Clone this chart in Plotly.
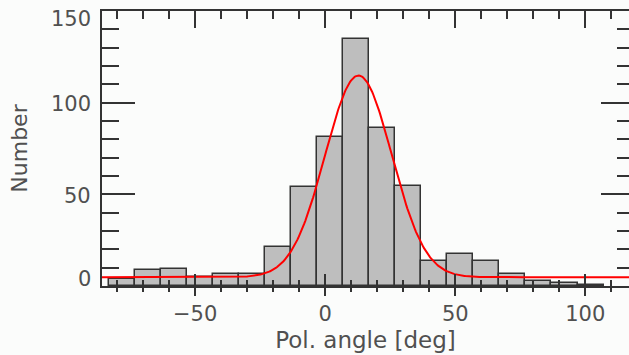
import numpy as np
import plotly.graph_objects as go

# Histogram of polarization angles (10-degree bins) and a Gaussian fit
bin_centers = [-78, -68, -58, -48, -38, -28, -18, -8, 2, 12, 22, 32,
               42, 52, 62, 72, 82, 92, 102]
counts = [3.7, 9.0, 9.5, 5.0, 6.6, 6.6, 21.3, 54.0, 81.3, 135.0, 86.4, 54.7,
          13.7, 17.5, 13.7, 6.3, 2.5, 1.5, 0.8]
bin_width = 10

# Gaussian + constant fit parameters
fit_amp = 110.0
fit_center = 12.8
fit_sigma = 12.8
fit_offset = 4.8

x_range = [-85.8, 116.8]
y_range = [0, 150]
x_major = [-50, 0, 50, 100]
y_major = [0, 50, 100, 150]
y_labels = ["0", "50", "100", "150"]
# end labels are nudged inside the frame (pixels, positive = up)
y_label_shift = [7, -2, -1, -8]

FONT = "DejaVu Sans"
TEXT = "#505050"
AXIS = "#333333"
BG = "#fbfcfb"

xf = np.linspace(x_range[0], x_range[1], 600)
yf = fit_offset + fit_amp * np.exp(-0.5 * ((xf - fit_center) / fit_sigma) ** 2)

fig = go.Figure()
fig.add_trace(go.Bar(
    x=bin_centers, y=counts, width=bin_width,
    marker=dict(color="#bebebe", line=dict(color=AXIS, width=1.5)),
    hoverinfo="skip", showlegend=False,
))
fig.add_trace(go.Scatter(
    x=xf, y=yf, mode="lines",
    line=dict(color="#ff0000", width=2),
    hoverinfo="skip", showlegend=False,
))
# empty traces so the extra tick-only axes get drawn
fig.add_trace(go.Scatter(x=[], y=[], xaxis="x2", yaxis="y", showlegend=False))
fig.add_trace(go.Scatter(x=[], y=[], xaxis="x3", yaxis="y", showlegend=False))
fig.add_trace(go.Scatter(x=[], y=[], xaxis="x", yaxis="y2", showlegend=False))

tick_common = dict(tickcolor=AXIS, tickwidth=1.5, showgrid=False, zeroline=False)

for val, txt, dy in zip(y_major, y_labels, y_label_shift):
    fig.add_annotation(
        x=0, xref="paper", xanchor="right", xshift=-9,
        y=val, yref="y", yanchor="middle", yshift=dy,
        text=txt, showarrow=False,
        font=dict(family=FONT, size=21, color=TEXT),
    )

fig.update_layout(
    width=629, height=355,
    margin=dict(l=102, r=0, t=11, b=69),
    paper_bgcolor=BG, plot_bgcolor=BG,
    bargap=0,
    font=dict(family=FONT, size=21, color=TEXT),
    xaxis=dict(
        range=x_range, side="bottom", anchor="y",
        showline=True, linecolor=AXIS, linewidth=1.5,
        tickmode="array", tickvals=x_major,
        ticks="outside", ticklen=8,
        minor=dict(dtick=10, tick0=0, ticks="outside", ticklen=4,
                   tickcolor=AXIS, tickwidth=1.5),
        tickfont=dict(family=FONT, size=21, color=TEXT),
        title=dict(text="Pol. angle [deg]", standoff=7,
                   font=dict(family=FONT, size=23, color=TEXT)),
        **tick_common,
    ),
    xaxis2=dict(
        range=x_range, overlaying="x", side="bottom", anchor="y",
        showline=False, showticklabels=False,
        tickmode="array", tickvals=x_major,
        ticks="inside", ticklen=12,
        minor=dict(dtick=10, tick0=0, ticks="inside", ticklen=6,
                   tickcolor=AXIS, tickwidth=1.5),
        **tick_common,
    ),
    xaxis3=dict(
        range=x_range, overlaying="x", side="top", anchor="y",
        showline=True, linecolor=AXIS, linewidth=1.5, showticklabels=False,
        tickmode="array", tickvals=x_major,
        ticks="inside", ticklen=17,
        minor=dict(dtick=10, tick0=0, ticks="inside", ticklen=8,
                   tickcolor=AXIS, tickwidth=1.5),
        **tick_common,
    ),
    yaxis=dict(
        range=y_range, side="left", anchor="x",
        showline=True, linecolor=AXIS, linewidth=1.5,
        tickmode="array", tickvals=y_major, showticklabels=False,
        ticks="inside", ticklen=33,
        minor=dict(dtick=10, tick0=0, ticks="inside", ticklen=17,
                   tickcolor=AXIS, tickwidth=1.5),
        title=dict(text="Number", standoff=67,
                   font=dict(family=FONT, size=22, color=TEXT)),
        **tick_common,
    ),
    yaxis2=dict(
        range=y_range, overlaying="y", side="right", anchor="x",
        showline=False, showticklabels=False,
        tickmode="array", tickvals=y_major,
        ticks="inside", ticklen=28,
        minor=dict(dtick=10, tick0=0, ticks="inside", ticklen=12,
                   tickcolor=AXIS, tickwidth=1.5),
        **tick_common,
    ),
)

fig.write_html("out.html")
